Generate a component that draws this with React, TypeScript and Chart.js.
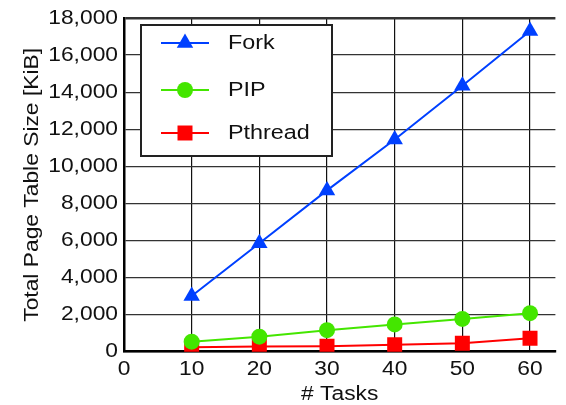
import React, { useEffect, useRef } from "react";
import { Chart, registerables } from "chart.js";

Chart.register(...registerables);

const tasks = [10, 20, 30, 40, 50, 60];
const forkKiB = [3000, 5850, 8700, 11450, 14350, 17300];
const pipKiB = [540, 810, 1160, 1470, 1770, 2080];
const pthreadKiB = [240, 280, 300, 375, 450, 725];
const yTicks = [0, 2000, 4000, 6000, 8000, 10000, 12000, 14000, 16000, 18000];
const xTicks = [0, 10, 20, 30, 40, 50, 60];

const FONT = "'Liberation Sans', Arial, Helvetica, sans-serif";
const TEXT = "#111111";
const TEXT_STRETCH = 1.14;

const series = [
  { label: "Fork", values: forkKiB, color: "#0040ff", style: "triangle", radius: 9.5 },
  { label: "PIP", values: pipKiB, color: "#44e600", style: "circle", radius: 8 },
  { label: "Pthread", values: pthreadKiB, color: "#ff0000", style: "rect", radius: 10.6 },
];

function drawMarker(ctx: CanvasRenderingContext2D, style: string, x: number, y: number, r: number) {
  ctx.beginPath();
  if (style === "triangle") {
    ctx.moveTo(x, y - r);
    ctx.lineTo(x + 0.866 * r, y + 0.5 * r);
    ctx.lineTo(x - 0.866 * r, y + 0.5 * r);
    ctx.closePath();
  } else if (style === "circle") {
    ctx.arc(x, y, r, 0, Math.PI * 2);
  } else {
    const s = Math.SQRT1_2 * r;
    ctx.rect(x - s, y - s, 2 * s, 2 * s);
  }
  ctx.fill();
}

const boxLegend = {
  id: "boxLegend",
  afterDraw(chart: any) {
    const ctx: CanvasRenderingContext2D = chart.ctx;
    ctx.save();
    const x0 = 141, y0 = 25, w = 191, h = 131;
    ctx.fillStyle = "#ffffff";
    ctx.fillRect(x0, y0, w, h);
    ctx.strokeStyle = "#222222";
    ctx.lineWidth = 2;
    ctx.strokeRect(x0, y0, w, h);
    const rows = [43, 90, 133];
    chart.data.datasets.forEach((ds: any, i: number) => {
      const y = rows[i];
      ctx.strokeStyle = ds.borderColor;
      ctx.lineWidth = 2;
      ctx.beginPath();
      ctx.moveTo(161, y);
      ctx.lineTo(209, y);
      ctx.stroke();
      ctx.fillStyle = ds.backgroundColor;
      drawMarker(ctx, ds.pointStyle, 185, y, ds.pointRadius);
      ctx.fillStyle = TEXT;
      ctx.font = `20.5px ${FONT}`;
      ctx.textBaseline = "middle";
      ctx.textAlign = "left";
      ctx.fillText(ds.label, 228, y);
    });
    ctx.restore();
  },
};

function stretchText(ctx: CanvasRenderingContext2D) {
  const anyCtx = ctx as any;
  if (anyCtx.__stretched) return;
  const orig = ctx.fillText.bind(ctx);
  anyCtx.fillText = (text: string, x: number, y: number, maxWidth?: number) => {
    ctx.save();
    ctx.translate(x, y);
    ctx.scale(TEXT_STRETCH, 1);
    if (maxWidth !== undefined) orig(text, 0, 0, maxWidth / TEXT_STRETCH);
    else orig(text, 0, 0);
    ctx.restore();
  };
  anyCtx.__stretched = true;
}

export default function App() {
  const ref = useRef<HTMLCanvasElement | null>(null);

  useEffect(() => {
    if (!ref.current) return;
    const c2d = ref.current.getContext("2d");
    if (c2d) stretchText(c2d);
    const chart = new Chart(ref.current, {
      type: "line",
      data: {
        datasets: series.map((s) => ({
          label: s.label,
          data: tasks.map((t, i) => ({ x: t, y: s.values[i] })),
          borderColor: s.color,
          backgroundColor: s.color,
          pointBackgroundColor: s.color,
          pointBorderColor: s.color,
          pointBorderWidth: 0,
          pointStyle: s.style as any,
          pointRadius: s.radius,
          pointHoverRadius: s.radius,
          borderWidth: 2,
          tension: 0,
          fill: false,
        })),
      },
      plugins: [boxLegend],
      options: {
        animation: false,
        responsive: false,
        maintainAspectRatio: false,
        layout: { padding: { top: 16, left: 0, right: 0, bottom: 0 } },
        plugins: {
          legend: { display: false },
          tooltip: { enabled: false },
        },
        scales: {
          x: {
            type: "linear",
            min: 0,
            max: 63.75,
            afterBuildTicks: (scale: any) => {
              scale.ticks = xTicks.map((v) => ({ value: v }));
            },
            afterFit: (scale: any) => {
              scale.height = 53.3;
            },
            grid: {
              color: "#111111",
              lineWidth: 1.2,
              drawTicks: false,
            },
            border: { color: "#000000", width: 2.5 },
            ticks: {
              padding: 6,
              color: TEXT,
              font: { family: FONT, size: 20 },
              maxRotation: 0,
            },
            title: {
              display: true,
              text: "# Tasks",
              color: TEXT,
              font: { family: FONT, size: 20 },
              padding: { top: 0, bottom: -1 },
            },
          },
          y: {
            type: "linear",
            min: 0,
            max: 18000,
            afterBuildTicks: (scale: any) => {
              scale.ticks = yTicks.map((v) => ({ value: v }));
            },
            afterFit: (scale: any) => {
              scale.width = 124;
            },
            grid: {
              color: "#333333",
              lineWidth: (ctx: any) => (ctx.tick && ctx.tick.value === 18000 ? 2.5 : 1.2),
              drawTicks: false,
            },
            border: { color: "#000000", width: 2.5 },
            ticks: {
              padding: 6,
              color: TEXT,
              font: { family: FONT, size: 20 },
              callback: (v: any) => Number(v).toLocaleString("en-US"),
            },
            title: {
              display: true,
              text: "Total Page Table Size [KiB]",
              color: TEXT,
              font: { family: FONT, size: 20 },
              padding: { top: 20, bottom: 0 },
            },
          },
        },
      },
    });
    return () => chart.destroy();
  }, []);

  return (
    <div style={{ position: "fixed", left: 0, top: 0, width: 566, height: 405, background: "#fff" }}>
      <canvas ref={ref} width={566} height={405} style={{ display: "block" }} />
    </div>
  );
}
